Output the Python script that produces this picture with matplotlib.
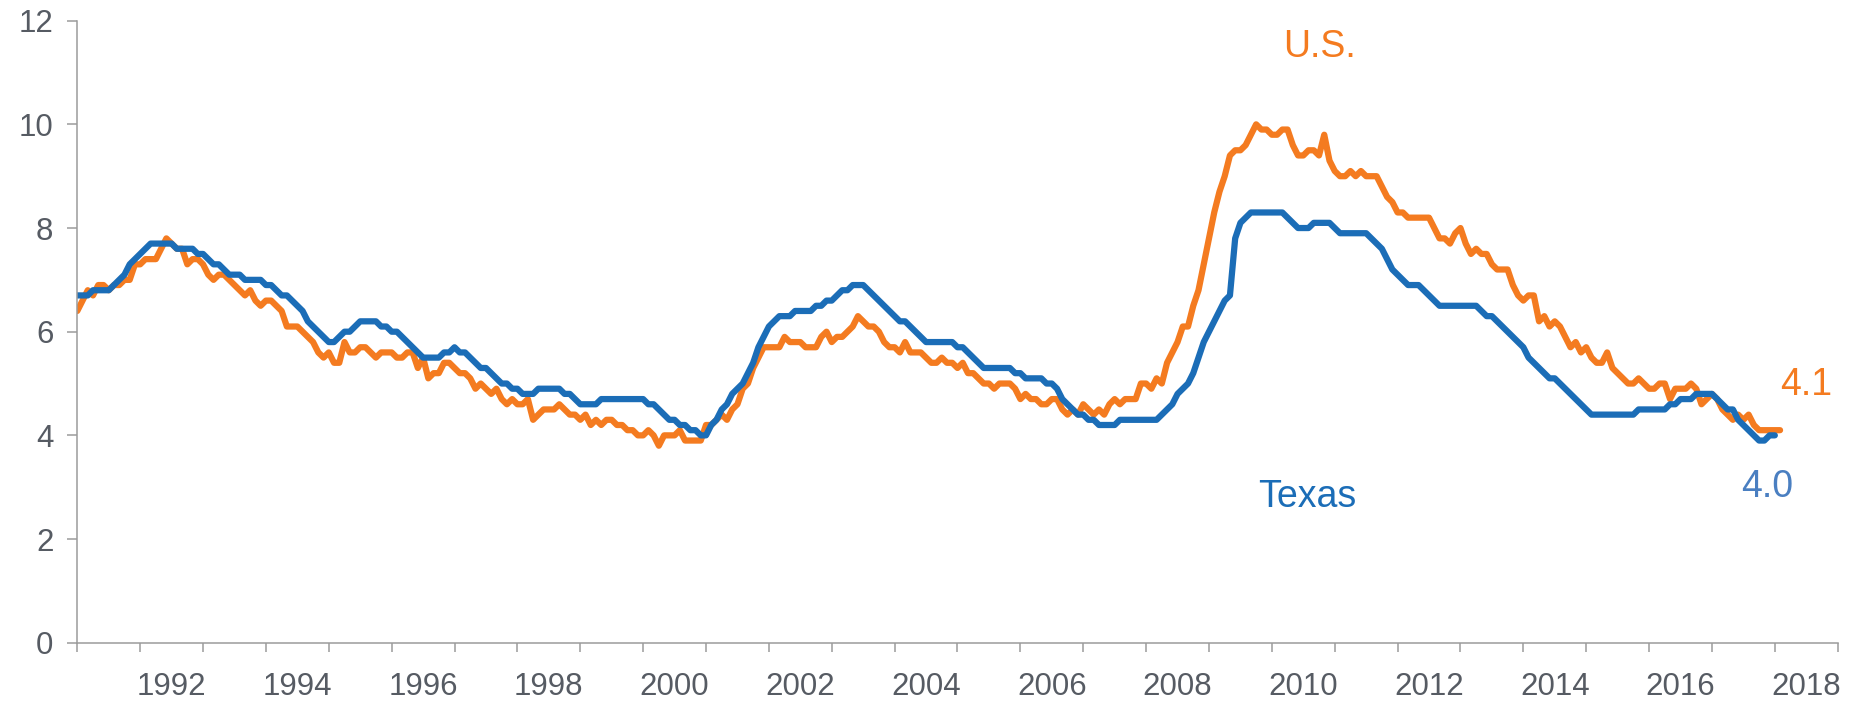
import numpy as np
import pandas as pd
import matplotlib
matplotlib.use("Agg")
import matplotlib.pyplot as plt

plt.rcParams['font.family'] = ['Liberation Sans', 'DejaVu Sans']

## -------- Unemployment rate, monthly, seasonally adjusted (%) -------- ##

# U.S., Jan 1991 - Feb 2018
us_rate = [
    6.4, 6.6, 6.8, 6.7, 6.9, 6.9, 6.8, 6.9, 6.9, 7.0, 7.0, 7.3,   # 1991
    7.3, 7.4, 7.4, 7.4, 7.6, 7.8, 7.7, 7.6, 7.6, 7.3, 7.4, 7.4,   # 1992
    7.3, 7.1, 7.0, 7.1, 7.1, 7.0, 6.9, 6.8, 6.7, 6.8, 6.6, 6.5,   # 1993
    6.6, 6.6, 6.5, 6.4, 6.1, 6.1, 6.1, 6.0, 5.9, 5.8, 5.6, 5.5,   # 1994
    5.6, 5.4, 5.4, 5.8, 5.6, 5.6, 5.7, 5.7, 5.6, 5.5, 5.6, 5.6,   # 1995
    5.6, 5.5, 5.5, 5.6, 5.6, 5.3, 5.5, 5.1, 5.2, 5.2, 5.4, 5.4,   # 1996
    5.3, 5.2, 5.2, 5.1, 4.9, 5.0, 4.9, 4.8, 4.9, 4.7, 4.6, 4.7,   # 1997
    4.6, 4.6, 4.7, 4.3, 4.4, 4.5, 4.5, 4.5, 4.6, 4.5, 4.4, 4.4,   # 1998
    4.3, 4.4, 4.2, 4.3, 4.2, 4.3, 4.3, 4.2, 4.2, 4.1, 4.1, 4.0,   # 1999
    4.0, 4.1, 4.0, 3.8, 4.0, 4.0, 4.0, 4.1, 3.9, 3.9, 3.9, 3.9,   # 2000
    4.2, 4.2, 4.3, 4.4, 4.3, 4.5, 4.6, 4.9, 5.0, 5.3, 5.5, 5.7,   # 2001
    5.7, 5.7, 5.7, 5.9, 5.8, 5.8, 5.8, 5.7, 5.7, 5.7, 5.9, 6.0,   # 2002
    5.8, 5.9, 5.9, 6.0, 6.1, 6.3, 6.2, 6.1, 6.1, 6.0, 5.8, 5.7,   # 2003
    5.7, 5.6, 5.8, 5.6, 5.6, 5.6, 5.5, 5.4, 5.4, 5.5, 5.4, 5.4,   # 2004
    5.3, 5.4, 5.2, 5.2, 5.1, 5.0, 5.0, 4.9, 5.0, 5.0, 5.0, 4.9,   # 2005
    4.7, 4.8, 4.7, 4.7, 4.6, 4.6, 4.7, 4.7, 4.5, 4.4, 4.5, 4.4,   # 2006
    4.6, 4.5, 4.4, 4.5, 4.4, 4.6, 4.7, 4.6, 4.7, 4.7, 4.7, 5.0,   # 2007
    5.0, 4.9, 5.1, 5.0, 5.4, 5.6, 5.8, 6.1, 6.1, 6.5, 6.8, 7.3,   # 2008
    7.8, 8.3, 8.7, 9.0, 9.4, 9.5, 9.5, 9.6, 9.8, 10.0, 9.9, 9.9,  # 2009
    9.8, 9.8, 9.9, 9.9, 9.6, 9.4, 9.4, 9.5, 9.5, 9.4, 9.8, 9.3,   # 2010
    9.1, 9.0, 9.0, 9.1, 9.0, 9.1, 9.0, 9.0, 9.0, 8.8, 8.6, 8.5,   # 2011
    8.3, 8.3, 8.2, 8.2, 8.2, 8.2, 8.2, 8.0, 7.8, 7.8, 7.7, 7.9,   # 2012
    8.0, 7.7, 7.5, 7.6, 7.5, 7.5, 7.3, 7.2, 7.2, 7.2, 6.9, 6.7,   # 2013
    6.6, 6.7, 6.7, 6.2, 6.3, 6.1, 6.2, 6.1, 5.9, 5.7, 5.8, 5.6,   # 2014
    5.7, 5.5, 5.4, 5.4, 5.6, 5.3, 5.2, 5.1, 5.0, 5.0, 5.1, 5.0,   # 2015
    4.9, 4.9, 5.0, 5.0, 4.7, 4.9, 4.9, 4.9, 5.0, 4.9, 4.6, 4.7,   # 2016
    4.8, 4.7, 4.5, 4.4, 4.3, 4.4, 4.3, 4.4, 4.2, 4.1, 4.1, 4.1,   # 2017
    4.1, 4.1,                                                     # 2018
]

# Texas, Jan 1991 - Jan 2018
tx_rate = [
    6.7, 6.7, 6.7, 6.8, 6.8, 6.8, 6.8, 6.9, 7.0, 7.1, 7.3, 7.4,   # 1991
    7.5, 7.6, 7.7, 7.7, 7.7, 7.7, 7.7, 7.6, 7.6, 7.6, 7.6, 7.5,   # 1992
    7.5, 7.4, 7.3, 7.3, 7.2, 7.1, 7.1, 7.1, 7.0, 7.0, 7.0, 7.0,   # 1993
    6.9, 6.9, 6.8, 6.7, 6.7, 6.6, 6.5, 6.4, 6.2, 6.1, 6.0, 5.9,   # 1994
    5.8, 5.8, 5.9, 6.0, 6.0, 6.1, 6.2, 6.2, 6.2, 6.2, 6.1, 6.1,   # 1995
    6.0, 6.0, 5.9, 5.8, 5.7, 5.6, 5.5, 5.5, 5.5, 5.5, 5.6, 5.6,   # 1996
    5.7, 5.6, 5.6, 5.5, 5.4, 5.3, 5.3, 5.2, 5.1, 5.0, 5.0, 4.9,   # 1997
    4.9, 4.8, 4.8, 4.8, 4.9, 4.9, 4.9, 4.9, 4.9, 4.8, 4.8, 4.7,   # 1998
    4.6, 4.6, 4.6, 4.6, 4.7, 4.7, 4.7, 4.7, 4.7, 4.7, 4.7, 4.7,   # 1999
    4.7, 4.6, 4.6, 4.5, 4.4, 4.3, 4.3, 4.2, 4.2, 4.1, 4.1, 4.0,   # 2000
    4.0, 4.2, 4.3, 4.5, 4.6, 4.8, 4.9, 5.0, 5.2, 5.4, 5.7, 5.9,   # 2001
    6.1, 6.2, 6.3, 6.3, 6.3, 6.4, 6.4, 6.4, 6.4, 6.5, 6.5, 6.6,   # 2002
    6.6, 6.7, 6.8, 6.8, 6.9, 6.9, 6.9, 6.8, 6.7, 6.6, 6.5, 6.4,   # 2003
    6.3, 6.2, 6.2, 6.1, 6.0, 5.9, 5.8, 5.8, 5.8, 5.8, 5.8, 5.8,   # 2004
    5.7, 5.7, 5.6, 5.5, 5.4, 5.3, 5.3, 5.3, 5.3, 5.3, 5.3, 5.2,   # 2005
    5.2, 5.1, 5.1, 5.1, 5.1, 5.0, 5.0, 4.9, 4.7, 4.6, 4.5, 4.4,   # 2006
    4.4, 4.3, 4.3, 4.2, 4.2, 4.2, 4.2, 4.3, 4.3, 4.3, 4.3, 4.3,   # 2007
    4.3, 4.3, 4.3, 4.4, 4.5, 4.6, 4.8, 4.9, 5.0, 5.2, 5.5, 5.8,   # 2008
    6.0, 6.2, 6.4, 6.6, 6.7, 7.8, 8.1, 8.2, 8.3, 8.3, 8.3, 8.3,   # 2009
    8.3, 8.3, 8.3, 8.2, 8.1, 8.0, 8.0, 8.0, 8.1, 8.1, 8.1, 8.1,   # 2010
    8.0, 7.9, 7.9, 7.9, 7.9, 7.9, 7.9, 7.8, 7.7, 7.6, 7.4, 7.2,   # 2011
    7.1, 7.0, 6.9, 6.9, 6.9, 6.8, 6.7, 6.6, 6.5, 6.5, 6.5, 6.5,   # 2012
    6.5, 6.5, 6.5, 6.5, 6.4, 6.3, 6.3, 6.2, 6.1, 6.0, 5.9, 5.8,   # 2013
    5.7, 5.5, 5.4, 5.3, 5.2, 5.1, 5.1, 5.0, 4.9, 4.8, 4.7, 4.6,   # 2014
    4.5, 4.4, 4.4, 4.4, 4.4, 4.4, 4.4, 4.4, 4.4, 4.4, 4.5, 4.5,   # 2015
    4.5, 4.5, 4.5, 4.5, 4.6, 4.6, 4.7, 4.7, 4.7, 4.8, 4.8, 4.8,   # 2016
    4.8, 4.7, 4.6, 4.5, 4.5, 4.3, 4.2, 4.1, 4.0, 3.9, 3.9, 4.0,   # 2017
    4.0,                                                          # 2018
]

start_month = "1991-01"
label_years = list(range(1992, 2019, 2))

us_last = "4.1"
tx_last = "4.0"

# monthly dates -> decimal years
us_dates = pd.date_range(start_month, periods=len(us_rate), freq="MS")
tx_dates = pd.date_range(start_month, periods=len(tx_rate), freq="MS")
us_x = us_dates.year + (us_dates.month - 1) / 12
tx_x = tx_dates.year + (tx_dates.month - 1) / 12

## -------- Plot -------- ##

orange = "#F47B20"
blue = "#1B6DB7"
grey_txt = "#565B63"
grey_ax = "#9B9B9B"

fig = plt.figure(figsize=(18.55, 7.03), dpi=100)
ax = fig.add_axes([0.04167, 0.08578, 0.94900, 0.88478])

ax.plot(us_x, us_rate, color=orange, lw=4.5, solid_joinstyle="round", solid_capstyle="round")
ax.plot(tx_x, tx_rate, color=blue, lw=4.5, solid_joinstyle="round", solid_capstyle="round")

ax.set_xlim(1991, 2019)
ax.set_ylim(0, 12)

# year ticks, labels centred in every second year
ax.set_xticks(np.arange(1991, 2020))
ax.set_xticklabels([])
ax.set_xticks([y + 0.5 for y in label_years], minor=True)
ax.set_xticklabels([str(y) for y in label_years], minor=True)
ax.tick_params(axis="x", which="major", length=6.5, width=1.1, color=grey_ax, direction="out")
ax.tick_params(axis="x", which="minor", length=0, pad=21, labelsize=22.5, labelcolor=grey_txt)

ax.set_yticks(range(0, 13, 2))
ax.tick_params(axis="y", length=7.2, width=1.1, color=grey_ax, pad=10, labelsize=22.5, labelcolor=grey_txt)

for s in ["top", "right"]:
    ax.spines[s].set_visible(False)
for s in ["left", "bottom"]:
    ax.spines[s].set_color(grey_ax)
    ax.spines[s].set_linewidth(1.1)

# series labels
ax.text(2010.75, 11.49, "U.S.", color=orange, fontsize=27, ha="center", va="center")
ax.text(2010.56, 2.81, "Texas", color=blue, fontsize=27, ha="center", va="center")
ax.text(2018.50, 4.98, us_last, color=orange, fontsize=27, ha="center", va="center")
ax.text(2017.88, 3.00, tx_last, color="#4A7FC1", fontsize=27, ha="center", va="center")

fig.savefig("out.png", dpi=100)
